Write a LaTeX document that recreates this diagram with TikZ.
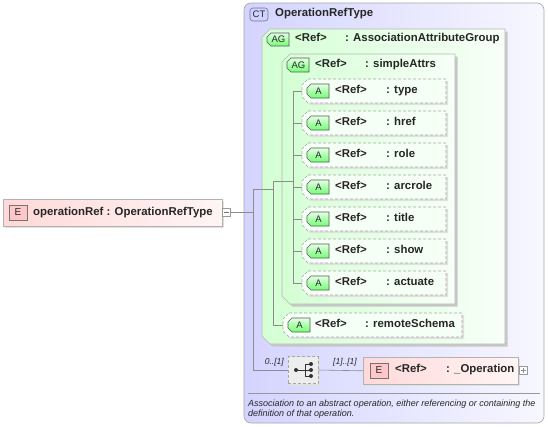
\documentclass[tikz,border=0pt]{standalone}
\usepackage{fontspec}
\setmainfont{Liberation Sans}
\usetikzlibrary{shadows}
\newcommand\chbox[6][]{\path[#1] (#2+#6,#3) -- (#4,#3) -- (#4,#5) -- (#2+#6,#5) -- (#2,#5-#6) -- (#2,#3+#6) -- cycle;}
\begin{document}
\begin{tikzpicture}[x=1pt,y=-1pt,
  line/.style={draw=black!45, line width=0.6pt},
  lbl/.style={font=\fontsize{11.4}{13}\selectfont\bfseries, anchor=mid west, inner sep=0, text=black!85},
  badgetxt/.style={font=\fontsize{9.5}{10}\selectfont, inner sep=0, text=black!85},
  multi/.style={font=\fontsize{8.5}{10}\selectfont\itshape, inner sep=0, text=black!85},
  shad/.style={drop shadow={shadow xshift=2.5pt, shadow yshift=-2.5pt, fill=black!22, opacity=1}},
  lshad/.style={drop shadow={shadow xshift=2pt, shadow yshift=-2pt, fill=black!12, opacity=1}},
  ctbox/.style={draw=black!35, line width=0.6pt, rounded corners=7pt, left color=blue!17, right color=blue!3},
  agbox/.style={draw=black!28, line width=0.6pt, left color=green!17, right color=green!3, shad},
  attrbox/.style={draw=black!35, line width=0.6pt, dash pattern=on 3pt off 2pt, fill=green!4!white, lshad},
  abadge/.style={draw=black!65, line width=0.6pt, top color=green!10, bottom color=green!55},
  ebox/.style={draw=black!30, line width=0.6pt, left color=red!15, right color=red!4, lshad, inner sep=0, anchor=north west},
  ebadge/.style={draw=black!55, line width=0.6pt, fill=red!22, inner sep=0, minimum width=18pt, minimum height=15pt, font=\fontsize{10}{11}\selectfont, text=black!85},
  iconbox/.style={draw=black!40, line width=0.5pt, fill=white, minimum size=8pt, inner sep=0},
  seqbox/.style={draw=black!35, line width=0.6pt, dash pattern=on 3pt off 2pt, fill=black!7, lshad, minimum width=30pt, minimum height=27pt, inner sep=0}
]
\useasboundingbox (0,0) rectangle (548,426);

% complex type container
\path[ctbox] (244,3) rectangle (544,423);
\coordinate (ctnw) at (244,3);
\node[draw=blue!30!black!55, line width=0.6pt, fill=blue!18, rounded corners=3pt, minimum width=18pt, minimum height=13pt, inner sep=0, font=\fontsize{9.5}{10}\selectfont, text=black!85] (ctb) at (259,14.5) {CT};
\node[lbl] (cttitle) at (275,14) {OperationRefType};

% separator and description
\coordinate (sepL) at (248,393);
\coordinate (sepR) at (540,393);
\draw[draw=black!40, line width=0.5pt] (sepL) -- (sepR);
\node[font=\fontsize{9}{10.5}\selectfont\itshape, anchor=base west, inner sep=0, align=left, text=black!85] (desc) at (248,416.5) {Association to an abstract operation, either referencing or containing the\\definition of that operation.};

% outer attribute group
\chbox[agbox]{262}{29}{505}{344}{8}
\chbox[abadge]{267}{33}{289}{46}{4}
\node[badgetxt] (agb1) at (278.5,39.5) {AG};
\node[lbl] (agr1) at (295,39) {<Ref>};
\node[lbl] (agn1) at (345,39) {: AssociationAttributeGroup};

% inner attribute group
\chbox[agbox]{282}{54}{455}{304}{8}
\chbox[abadge]{287}{58}{309}{72}{4}
\node[badgetxt] (agb2) at (298.5,65) {AG};
\node[lbl] (agr2) at (315,65) {<Ref>};
\node[lbl] (agn2) at (365,65) {: simpleAttrs};

% junction coordinates
\coordinate (j1) at (253,212);
\coordinate (j1top) at (253,189);
\coordinate (j1bot) at (253,370);
\coordinate (j2) at (273,189);
\coordinate (j2top) at (273,181);
\coordinate (j2bot) at (273,325);
\coordinate (j3) at (293,181);
\coordinate (j3top) at (293,91);
\coordinate (j3bot) at (293,283);

\draw[line] (j3top) -- (j3bot);
\draw[line] (j2top) -- (j3);
\draw[line] (j2top) -- (j2bot);
\draw[line] (j1top) -- (j2);
\draw[line] (j1top) -- (j1bot);

% attributes
\foreach \lab [count=\k from 0] in {type,href,role,arcrole,title,show,actuate}{
  \pgfmathsetmacro\cy{91+32*\k}
  \coordinate (br-\lab) at (293,\cy);
  \coordinate (at-\lab) at (302,\cy);
  \draw[line] (br-\lab) -- (at-\lab);
  \chbox[attrbox]{302}{\cy-12}{446}{\cy+12}{6}
  \chbox[abadge]{307}{\cy-7}{329}{\cy+7}{4}
  \node[badgetxt] (atb-\lab) at (318.5,\cy) {A};
  \node[lbl] (atr-\lab) at (335,\cy) {<Ref>};
  \node[lbl] (atn-\lab) at (386,\cy) {: \lab};
}

% remoteSchema
\coordinate (rs) at (283,325);
\draw[line] (j2bot) -- (rs);
\chbox[attrbox]{283}{313}{462}{337}{6}
\chbox[abadge]{288}{318}{310}{332}{4}
\node[badgetxt] (atb-rs) at (299.5,325) {A};
\node[lbl] (atr-rs) at (315,325) {<Ref>};
\node[lbl] (atn-rs) at (365,325) {: remoteSchema};

% operationRef element
\node[ebox, minimum width=219pt, minimum height=27pt] (opref) at (3,199) {};
\node[ebadge] (opE) at (18,212.5) {E};
\node[lbl] (optxt) at (33,212.5) {operationRef : OperationRefType};
\node[iconbox] (opmin) at (226.5,212) {};
\draw[black!55, line width=0.6pt] ([xshift=1.8pt]opmin.west) -- ([xshift=-1.8pt]opmin.east);
\draw[line] (opmin.east) -- (j1);

% sequence
\node[seqbox] (seq) at (303,370) {};
\draw[line] (j1bot) -- (seq.west);
\coordinate (sd0) at (296,370);
\coordinate (sv) at (305,370);
\draw[black!80, line width=0.8pt] (sd0) -- (sv) (305,364) -- (305,376) (305,364) -- (311,364) (305,376) -- (311,376) (sv) -- (311,370);
\fill[black!80] (sd0) circle (2pt) (311,364) circle (2pt) (311,370) circle (2pt) (311,376) circle (2pt);
\node[multi, anchor=mid east] (m0) at (284,362) {0..[1]};
\node[multi, anchor=mid west] (m1) at (333,362) {[1]..[1]};

% _Operation element
\node[ebox, minimum width=155pt, minimum height=27pt] (opel) at (363,357) {};
\draw[line] (seq.east) -- (opel.west);
\node[ebadge] (opelE) at (379,370.5) {E};
\node[lbl] (opelr) at (395,370) {<Ref>};
\node[lbl] (opeln) at (446,370) {: \_Operation};
\node[iconbox] (opplus) at (523.5,370.5) {};
\draw[black!45, line width=0.5pt] ([xshift=1.8pt]opplus.west) -- ([xshift=-1.8pt]opplus.east) ([yshift=-1.8pt]opplus.north) -- ([yshift=1.8pt]opplus.south);
\end{tikzpicture}
\end{document}
